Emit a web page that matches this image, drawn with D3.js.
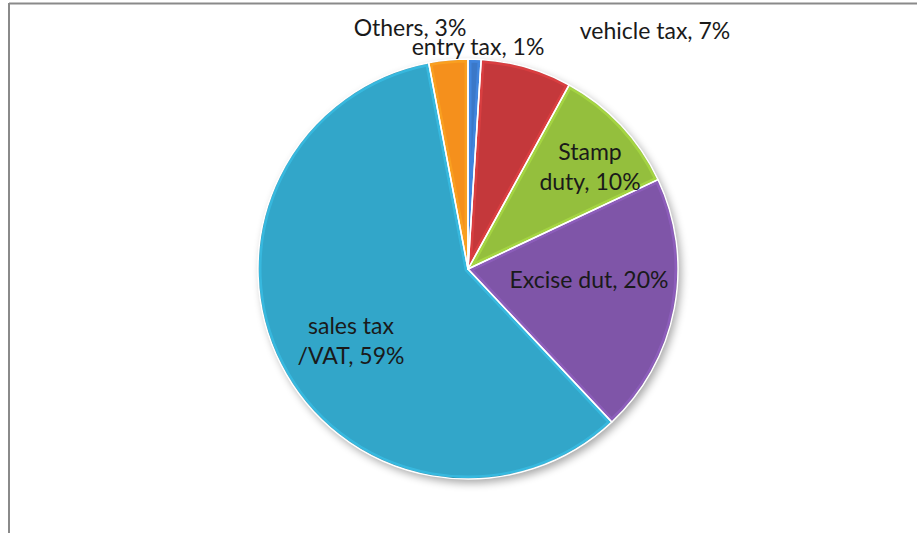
<!DOCTYPE html>
<html>
<head>
<meta charset="utf-8">
<script src="https://cdn.jsdelivr.net/npm/d3@7"></script>
<style>
  body { margin: 0; background: #fff; }
  svg { display: block; }
  text { font-family: Lato, "Open Sans", sans-serif; fill: #1a1a1a; }
</style>
</head>
<body>
<svg id="canvas" width="917" height="533"></svg>
<script>
// slices in Excel order, clockwise from 12 o'clock
const taxNames = ['entry tax', 'vehicle tax', 'Stamp duty', 'Excise dut', 'sales tax /VAT', 'Others']
const taxShares = [1, 7, 10, 20, 59, 3]
const taxLabels = [['entry tax, 1%'], ['vehicle tax, 7%'], ['Stamp', 'duty, 10%'], ['Excise dut, 20%'], ['sales tax', '/VAT, 59%'], ['Others, 3%']]
const sliceColors = ['#3a78c8', '#c4393a', '#94bf3c', '#7f55a8', '#33a6c9', '#f5901f']

let svg = d3.select('#canvas')

const cx = 468, cy = 269, r = 210

// label anchors relative to the centre (Excel "best fit" placement)
const labelSpots = [[10, -214], [187, -230], [122, -109], [121, 19], [-117, 65], [-58, -233]]

// frame
svg.append('line').attr('x1', 9).attr('x2', 917).attr('y1', 3.5).attr('y2', 3.5)
  .attr('stroke', '#8a8a8a').attr('stroke-width', 2)
svg.append('line').attr('x1', 9).attr('x2', 9).attr('y1', 3).attr('y2', 533)
  .attr('stroke', '#8a8a8a').attr('stroke-width', 2)

let defs = svg.append('defs')
let shadow = defs.append('filter').attr('id', 'shadow')
  .attr('x', '-20%').attr('y', '-20%').attr('width', '140%').attr('height', '140%')
shadow.append('feGaussianBlur').attr('in', 'SourceAlpha').attr('stdDeviation', 4)
shadow.append('feOffset').attr('dx', 3).attr('dy', 4).attr('result', 'blur')
shadow.append('feComponentTransfer').append('feFuncA').attr('type', 'linear').attr('slope', 0.35)
let merge = shadow.append('feMerge')
merge.append('feMergeNode')
merge.append('feMergeNode').attr('in', 'SourceGraphic')

let pie = d3.pie().value(d => d).sort(null)
let arcs = pie(taxShares)
let arc = d3.arc().innerRadius(0).outerRadius(r)

let g = svg.append('g').attr('transform', `translate(${cx},${cy})`)

// clip paths so the bevel highlight stays inside each slice
arcs.forEach((d, i) => {
  defs.append('clipPath').attr('id', 'clip' + i).append('path').attr('d', arc(d))
})

let pieG = g.append('g').attr('filter', 'url(#shadow)')

pieG.selectAll('path.slice')
  .data(arcs)
  .enter().append('path')
  .attr('class', 'slice')
  .attr('d', arc)
  .attr('fill', (d, i) => sliceColors[i])

// soft bevel on the edges
g.selectAll('path.bevel')
  .data(arcs)
  .enter().append('path')
  .attr('class', 'bevel')
  .attr('d', arc)
  .attr('fill', 'none')
  .attr('clip-path', (d, i) => `url(#clip${i})`)
  .attr('stroke', (d, i) => d3.color(sliceColors[i]).brighter(0.6))
  .attr('stroke-width', 7)
  .attr('stroke-opacity', 0.45)

// darker rim on the outside
g.selectAll('path.rim')
  .data(arcs)
  .enter().append('path')
  .attr('class', 'rim')
  .attr('d', d3.arc().innerRadius(r - 0.8).outerRadius(r))
  .attr('fill', (d, i) => d3.color(sliceColors[i]).darker(0.8))

g.selectAll('path.edge')
  .data(arcs)
  .enter().append('path')
  .attr('class', 'edge')
  .attr('d', arc)
  .attr('fill', 'none')
  .attr('stroke', '#fff')
  .attr('stroke-width', 1.5)
  .attr('stroke-linejoin', 'round')

// labels
let labels = g.selectAll('text.lbl')
  .data(arcs)
  .enter().append('text')
  .attr('class', 'lbl')
  .attr('text-anchor', 'middle')
  .attr('font-size', 23)
  .attr('x', (d, i) => labelSpots[i][0])
  .attr('y', (d, i) => labelSpots[i][1])

labels.selectAll('tspan')
  .data((d, i) => taxLabels[i])
  .enter().append('tspan')
  .attr('x', function () { return d3.select(this.parentNode).attr('x') })
  .attr('dy', (t, j) => j === 0 ? 0 : 30)
  .text(t => t)
</script>
</body>
</html>
